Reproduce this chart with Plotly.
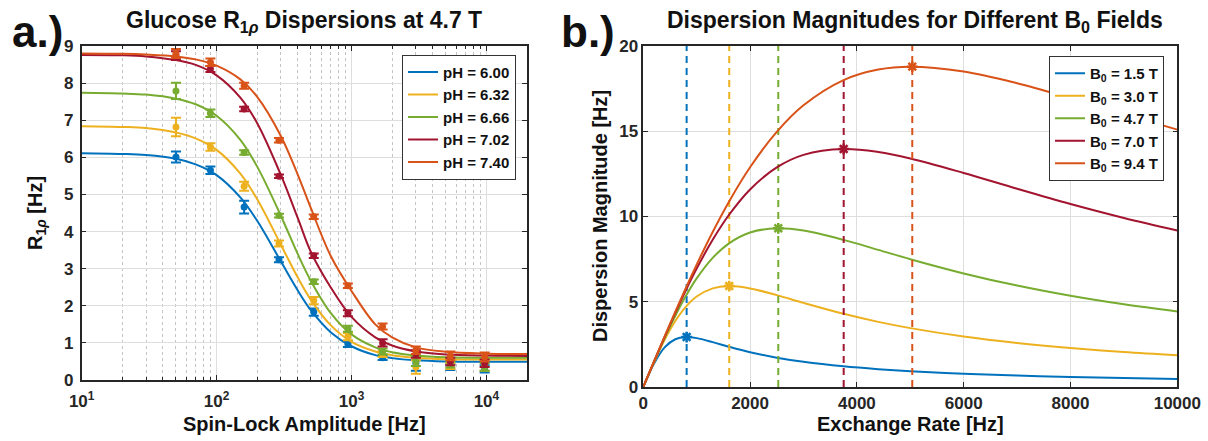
import plotly.graph_objects as go

# ---------------- panel a: glucose R1rho dispersions at 4.7 T ----------------
spin_lock_hz = [50, 90, 160, 290, 525, 940, 1700, 3000, 5400, 9700]

ph_names = ["pH = 6.00", "pH = 6.32", "pH = 6.66", "pH = 7.02", "pH = 7.40"]

r1rho_ph600 = [6.01, 5.65, 4.66, 3.24, 1.83, 0.97, 0.60, 0.45, 0.35, 0.30]
r1rho_ph632 = [6.82, 6.28, 5.22, 3.68, 2.14, 1.17, 0.70, 0.35, 0.38, 0.40]
r1rho_ph666 = [7.79, 7.19, 6.13, 4.43, 2.65, 1.38, 0.77, 0.50, 0.42, 0.35]
r1rho_ph702 = [8.74, 8.38, 7.30, 5.49, 3.35, 1.80, 1.00, 0.70, 0.50, 0.45]
r1rho_ph740 = [8.80, 8.56, 7.93, 6.46, 4.40, 2.54, 1.44, 0.80, 0.65, 0.62]

err_ph600 = [0.15, 0.10, 0.17, 0.07, 0.10, 0.08, 0.06, 0.20, 0.08, 0.10]
err_ph632 = [0.25, 0.10, 0.12, 0.08, 0.10, 0.10, 0.08, 0.18, 0.08, 0.15]
err_ph666 = [0.22, 0.10, 0.06, 0.05, 0.06, 0.08, 0.08, 0.12, 0.08, 0.10]
err_ph702 = [0.12, 0.08, 0.06, 0.05, 0.06, 0.08, 0.10, 0.10, 0.10, 0.10]
err_ph740 = [0.12, 0.10, 0.08, 0.06, 0.06, 0.06, 0.08, 0.10, 0.12, 0.12]

fit_freq_hz = [10, 20, 30, 50, 70, 100, 150, 200, 300, 400, 500, 700,
               1000, 1500, 2000, 3000, 5000, 10000, 20000]
fit_ph600 = [6.11, 6.09, 6.06, 5.96, 5.81, 5.52, 4.92, 4.29, 3.19, 2.41, 1.88, 1.29,
             0.91, 0.67, 0.59, 0.53, 0.50, 0.49, 0.49]
fit_ph632 = [6.84, 6.82, 6.79, 6.67, 6.51, 6.20, 5.56, 4.87, 3.64, 2.76, 2.16, 1.48,
             1.03, 0.77, 0.67, 0.60, 0.56, 0.55, 0.55]
fit_ph666 = [7.74, 7.72, 7.69, 7.58, 7.43, 7.12, 6.47, 5.75, 4.42, 3.39, 2.67, 1.81,
             1.23, 0.88, 0.75, 0.66, 0.61, 0.60, 0.60]
fit_ph702 = [8.76, 8.75, 8.72, 8.62, 8.49, 8.21, 7.61, 6.92, 5.52, 4.36, 3.45, 2.50,
             1.70, 1.15, 0.93, 0.77, 0.69, 0.66, 0.65]
fit_ph740 = [8.80, 8.79, 8.77, 8.72, 8.64, 8.47, 8.10, 7.63, 6.57, 5.53, 4.63, 3.35,
             2.40, 1.50, 1.15, 0.88, 0.76, 0.71, 0.70]

# ---------------- panel b: dispersion magnitude vs exchange rate ----------------
field_names = ["B<sub>0</sub> = 1.5 T", "B<sub>0</sub> = 3.0 T", "B<sub>0</sub> = 4.7 T",
               "B<sub>0</sub> = 7.0 T", "B<sub>0</sub> = 9.4 T"]

exchange_hz = [0, 200, 400, 600, 800, 1000, 1300, 1600, 2000, 2500, 3000, 3750,
               4400, 5000, 6000, 7000, 8000, 9000, 10000]
mag_b15 = [0, 1.361, 2.323, 2.801, 2.930, 2.868, 2.633, 2.365, 2.042, 1.722, 1.478, 1.212,
           1.046, 0.927, 0.779, 0.671, 0.589, 0.524, 0.473]
mag_b30 = [0, 1.448, 2.771, 3.874, 4.718, 5.307, 5.787, 5.920, 5.783, 5.390, 4.933, 4.292,
           3.821, 3.454, 2.964, 2.586, 2.290, 2.052, 1.858]
mag_b47 = [0, 1.464, 2.874, 4.184, 5.356, 6.369, 7.573, 8.414, 9.060, 9.310, 9.175, 8.630,
           8.043, 7.498, 6.663, 5.949, 5.350, 4.848, 4.424]
mag_b70 = [0, 1.484, 2.942, 4.352, 5.693, 6.946, 8.635, 10.072, 11.588, 12.882, 13.617, 13.960,
           13.785, 13.405, 12.553, 11.627, 10.735, 9.918, 9.185]
mag_b94 = [0, 1.490, 2.966, 4.414, 5.822, 7.178, 9.093, 10.843, 12.889, 14.965, 16.522, 18.001,
           18.620, 18.789, 18.506, 17.817, 16.944, 16.016, 15.098]

peak_rate_hz = [812, 1610, 2528, 3753, 5037]
peak_mag = [2.93, 5.92, 9.31, 13.96, 18.79]

colors = ["#0072BD", "#EDB120", "#77AC30", "#A2142F", "#D95319"]

FONT = "Liberation Sans, Arial, Helvetica, sans-serif"
AXIS_COLOR = "#262626"
GRID_COLOR = "#dedede"

fig = go.Figure()

r1rho_sets = [r1rho_ph600, r1rho_ph632, r1rho_ph666, r1rho_ph702, r1rho_ph740]
err_sets = [err_ph600, err_ph632, err_ph666, err_ph702, err_ph740]
fit_sets = [fit_ph600, fit_ph632, fit_ph666, fit_ph702, fit_ph740]

for name, vals, errs, fit, col in zip(ph_names, r1rho_sets, err_sets, fit_sets, colors):
    fig.add_trace(go.Scatter(
        x=fit_freq_hz, y=fit, mode="lines", name=name,
        line=dict(color=col, width=2, shape="spline", smoothing=1.0),
        xaxis="x", yaxis="y", legend="legend"))
    fig.add_trace(go.Scatter(
        x=spin_lock_hz, y=vals, mode="markers", showlegend=False,
        marker=dict(color=col, size=7, symbol="circle"),
        error_y=dict(type="data", array=errs, visible=True, color=col,
                     thickness=2, width=5),
        xaxis="x", yaxis="y"))

mag_sets = [mag_b15, mag_b30, mag_b47, mag_b70, mag_b94]
for name, mag, pk_x, pk_y, col in zip(field_names, mag_sets, peak_rate_hz, peak_mag, colors):
    fig.add_trace(go.Scatter(
        x=[pk_x, pk_x], y=[0, 20], mode="lines", showlegend=False,
        line=dict(color=col, width=2, dash="7px,5px"),
        xaxis="x2", yaxis="y2"))
    fig.add_trace(go.Scatter(
        x=exchange_hz, y=mag, mode="lines", name=name,
        line=dict(color=col, width=2, shape="spline", smoothing=1.0),
        xaxis="x2", yaxis="y2", legend="legend2"))
    fig.add_trace(go.Scatter(
        x=[pk_x], y=[pk_y], mode="markers", showlegend=False,
        marker=dict(color=col, size=9, symbol="asterisk-open",
                    line=dict(color=col, width=2.5)),
        xaxis="x2", yaxis="y2"))

tick_font = dict(family=FONT, size=17, color=AXIS_COLOR, weight="bold")

log_major = [10, 100, 1000, 10000]
log_major_text = ["10<sup>1</sup>", "10<sup>2</sup>", "10<sup>3</sup>", "10<sup>4</sup>"]
log_minor = [m * d for d in (10, 100, 1000) for m in range(2, 10)] + [20000]

axis_common = dict(showline=True, linecolor=AXIS_COLOR, linewidth=1.5, mirror="ticks",
                   ticks="inside", ticklen=5, tickcolor=AXIS_COLOR, tickwidth=1.2,
                   gridcolor=GRID_COLOR, gridwidth=1, zeroline=False,
                   automargin=False, tickfont=tick_font)

fig.update_layout(
    width=1208, height=441, autosize=False,
    margin=dict(l=0, r=0, t=0, b=0, pad=0),
    paper_bgcolor="white", plot_bgcolor="white",
    font=dict(family=FONT, color=AXIS_COLOR),
    xaxis=dict(domain=[0.0676, 0.4363], type="log", range=[1, 4.30103],
               tickvals=log_major, ticktext=log_major_text, anchor="y",
               ticklabelstandoff=5,
               minor=dict(tickvals=log_minor, showgrid=True, griddash="dot",
                          gridcolor="#c4c4c4", gridwidth=1, ticks="inside",
                          ticklen=3, tickcolor=AXIS_COLOR),
               **axis_common),
    yaxis=dict(domain=[0.1383, 0.8957], range=[0, 9], dtick=1, anchor="x",
               ticklabelstandoff=3, **axis_common),
    xaxis2=dict(domain=[0.5325, 0.9746], range=[0, 10000], dtick=2000, anchor="y2",
                tickformat="d", **axis_common),
    yaxis2=dict(domain=[0.1224, 0.8957], range=[0, 20], dtick=5, anchor="x2",
                **axis_common),
    legend=dict(x=0.3328, y=0.876, xanchor="left", yanchor="top",
                bgcolor="white", bordercolor="#333333", borderwidth=1,
                font=dict(family=FONT, size=15, color="#111", weight="bold"),
                tracegroupgap=0, itemwidth=30),
    legend2=dict(x=0.8684, y=0.873, xanchor="left", yanchor="top",
                 bgcolor="white", bordercolor="#333333", borderwidth=1,
                 font=dict(family=FONT, size=15, color="#111", weight="bold"),
                 tracegroupgap=0, itemwidth=30),
)

ann_font = dict(family=FONT, color="#111", weight="bold")
annotations = [
    dict(text="a.)", x=37, y=31, font=dict(size=44, **ann_font)),
    dict(text="b.)", x=588, y=31, font=dict(size=44, **ann_font)),
    dict(text="Glucose R<sub>1<i>ρ</i></sub> Dispersions at 4.7 T", x=304, y=21,
         font=dict(size=23, **ann_font)),
    dict(text="Dispersion Magnitudes for Different B<sub>0</sub> Fields", x=915, y=21,
         font=dict(size=23, **ann_font)),
    dict(text="Spin-Lock Amplitude [Hz]", x=304, y=424, font=dict(size=20, **ann_font)),
    dict(text="Exchange Rate [Hz]", x=910, y=424, font=dict(size=20, **ann_font)),
    dict(text="R<sub>1<i>ρ</i></sub> [Hz]", x=36, y=213, textangle=-90,
         font=dict(size=20, **ann_font)),
    dict(text="Dispersion Magnitude [Hz]", x=600, y=216, textangle=-90,
         font=dict(size=20, **ann_font)),
]
for a in annotations:
    fig.add_annotation(text=a["text"], x=a["x"] / 1208, y=1 - a["y"] / 441,
                       xref="paper", yref="paper", xanchor="center", yanchor="middle",
                       showarrow=False, textangle=a.get("textangle", 0), font=a["font"])

fig.write_html("out.html")
